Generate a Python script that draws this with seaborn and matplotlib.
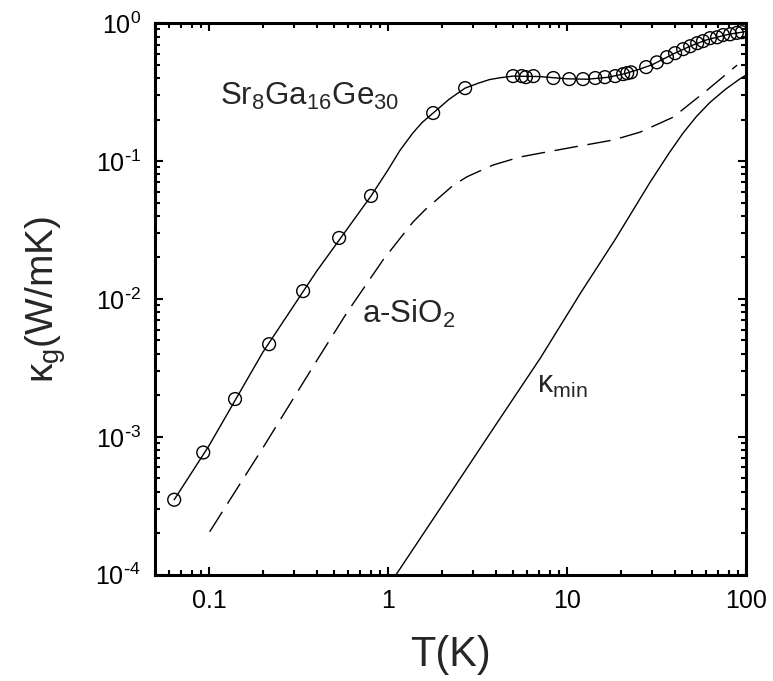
import numpy as np
import pandas as pd
import matplotlib
matplotlib.use("Agg")
import matplotlib.pyplot as plt
import matplotlib.ticker as mticker
import seaborn as sns

# measured points, Sr8Ga16Ge30
sr_T = [0.064, 0.093, 0.140, 0.217, 0.336, 0.534, 0.805, 1.79, 2.70,
        5.0, 5.6, 5.9, 6.5, 8.4, 10.3, 12.3, 14.4, 16.3, 18.6, 20.6, 21.7, 22.8,
        27.7, 31.8, 36.2, 40.2, 44.6, 48.8, 53.4, 57.6, 63, 69, 74.5, 81.5, 89, 95]
sr_k = [3.5e-4, 7.7e-4, 1.88e-3, 4.7e-3, 0.0114, 0.0277, 0.0558, 0.223, 0.338,
        0.413, 0.413, 0.406, 0.413, 0.40, 0.393, 0.393, 0.40, 0.406, 0.413, 0.427, 0.434, 0.44,
        0.48, 0.52, 0.567, 0.606, 0.648, 0.68, 0.716, 0.741, 0.778, 0.79, 0.82, 0.83, 0.85, 0.86]

# fit through the Sr8Ga16Ge30 data
fit_T = [0.064, 0.1, 0.2, 0.4, 0.805, 1.0, 1.17, 1.38, 1.55, 1.79, 2.2, 2.7, 3.2, 3.7, 4.3, 5.0, 7.0,
         10, 13, 17, 21, 25, 30, 40, 50, 60, 70, 80, 90, 100]
fit_k = [3.5e-4, 8.6e-4, 4.1e-3, 0.0159, 0.0558, 0.086, 0.120, 0.160, 0.19, 0.223, 0.281, 0.338, 0.367,
         0.39, 0.403, 0.413, 0.41, 0.395, 0.392, 0.405, 0.43, 0.46, 0.50, 0.605, 0.69, 0.755,
         0.795, 0.83, 0.85, 0.87]

# a-SiO2 (dashed)
sio_T = [0.101, 0.2, 0.402, 0.592, 0.94, 1.38, 1.61, 2.31, 2.77, 3.86, 5.47, 7.08, 10.8, 18.1,
         25.6, 39.2, 60.7, 89.2]
sio_k = [2.05e-4, 8.3e-4, 3.6e-3, 8.0e-3, 0.0192, 0.0361, 0.0442, 0.0665, 0.077, 0.0935, 0.107,
         0.114, 0.126, 0.142, 0.162, 0.208, 0.327, 0.496]

# minimum thermal conductivity
kmin_T = [1.11, 1.95, 4.0, 7.08, 12, 18.6, 29.1, 37, 44.6, 53, 63.1, 77, 92.7, 100]
kmin_k = [1.0e-4, 3.0e-4, 1.22e-3, 3.7e-3, 0.0112, 0.027, 0.07, 0.113, 0.160, 0.211, 0.267,
          0.332, 0.395, 0.42]

x_ticks = [0.1, 1, 10, 100]
y_ticks = [1e-4, 1e-3, 1e-2, 1e-1, 1]

sns.set_style("ticks")
plt.rcParams['font.family'] = ['Liberation Sans', 'DejaVu Sans']
plt.rcParams['mathtext.default'] = 'regular'
plt.rcParams['axes.unicode_minus'] = False

fig = plt.figure(figsize=(7.73, 6.81), dpi=100)
ax = fig.add_axes([0.2005, 0.156, 0.7645, 0.810])

sns.lineplot(x=fit_T, y=fit_k, ax=ax, color='black', lw=1.0, estimator=None, sort=False)
sns.lineplot(x=sio_T, y=sio_k, ax=ax, color='black', lw=1.0, estimator=None, sort=False)
ax.lines[-1].set_dashes((17, 7))
sns.lineplot(x=kmin_T, y=kmin_k, ax=ax, color='black', lw=1.0, estimator=None, sort=False)
sns.scatterplot(x=sr_T, y=sr_k, ax=ax, marker='o', s=85, facecolors='none',
                edgecolor='black', linewidth=1.0, zorder=3)

ax.set_xscale('log')
ax.set_yscale('log')
ax.set_xlim(0.05, 100)
ax.set_ylim(1e-4, 1)

ax.xaxis.set_major_locator(mticker.FixedLocator(x_ticks))
ax.xaxis.set_major_formatter(mticker.FuncFormatter(lambda v, p: f'{v:g}'))
ax.xaxis.set_minor_locator(mticker.LogLocator(base=10, subs=np.arange(2, 10), numticks=20))
ax.xaxis.set_minor_formatter(mticker.NullFormatter())
ax.yaxis.set_major_locator(mticker.FixedLocator(y_ticks))
ax.yaxis.set_major_formatter(mticker.FuncFormatter(
    lambda v, p: '$10^{%s}$' % str(int(round(np.log10(v)))).replace('-', r'\text{-}')))
ax.yaxis.set_minor_locator(mticker.LogLocator(base=10, subs=np.arange(2, 10), numticks=20))
ax.yaxis.set_minor_formatter(mticker.NullFormatter())

ax.tick_params(which='both', direction='in', top=True, right=True, width=1.5,
               labelsize=18, color='black', labelcolor='black')
ax.tick_params(which='major', length=6, pad=10)
ax.tick_params(which='minor', length=3.5)
for s in ax.spines.values():
    s.set_linewidth(2.2)
    s.set_color('black')

ax.set_xlabel('T(K)', fontsize=30, labelpad=16)
ax.set_ylabel('$κ_g$(W/mK)', fontsize=28, labelpad=20)

ax.text(0.115, 0.255, '$Sr_8Ga_{16}Ge_{30}$', fontsize=22.5, va='baseline', ha='left')
ax.text(0.716, 6.7e-3, '$a$-$SiO_2$', fontsize=22.5, va='baseline', ha='left')
ax.text(6.8, 2.08e-3, '$κ_{min}$', fontsize=22, va='baseline', ha='left')

fig.savefig('out.png', dpi=100)
